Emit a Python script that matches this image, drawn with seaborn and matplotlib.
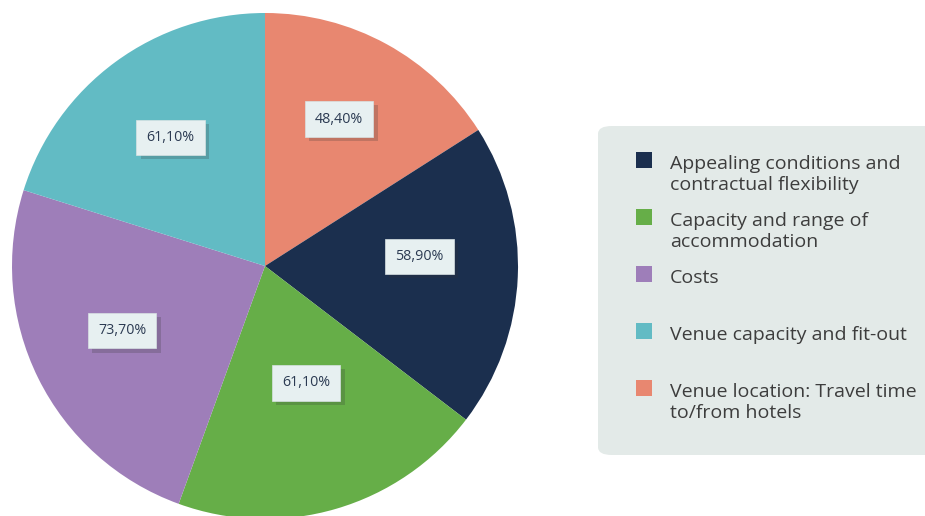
import numpy as np
import matplotlib.pyplot as plt
import matplotlib.patheffects as pe
from matplotlib.patches import FancyBboxPatch, Rectangle
import seaborn as sns

sns.set_theme(style='white')
plt.rcParams['font.family'] = ['Open Sans', 'DejaVu Sans']

# slices in clockwise order starting at 12 o'clock
slice_labels = ['Venue location: Travel time\nto/from hotels',
                'Appealing conditions and\ncontractual flexibility',
                'Capacity and range of\naccommodation',
                'Costs',
                'Venue capacity and fit-out']
slice_values = [48.4, 58.9, 61.1, 73.7, 61.1]
slice_colors = ['#e88770', '#1b2f4e', '#66ae48', '#9e7eb9', '#62bbc4']

# legend order
legend_order = [1, 2, 3, 4, 0]
# placement of the value boxes (radius fraction, angular nudge in degrees)
label_dist = [0.65, 0.61, 0.49, 0.62, 0.63]
label_nudge = [2, 6, 3, -2, 0]

fig = plt.figure(figsize=(9.25, 5.16), dpi=100)
ax = fig.add_axes([12 / 925, -3 / 516, 506 / 925, 506 / 516])

wedges, texts, autotexts = ax.pie(
    slice_values, colors=slice_colors, startangle=90, counterclock=False,
    autopct=lambda p: f'{p * sum(slice_values) / 100:.2f}%'.replace('.', ','),
    pctdistance=0.63, radius=1, wedgeprops=dict(linewidth=0))
ax.set_xlim(-1, 1)
ax.set_ylim(-1, 1)
ax.set_aspect('equal')
ax.axis('off')

for w, t, d, n in zip(wedges, autotexts, label_dist, label_nudge):
    mid = np.deg2rad((w.theta1 + w.theta2) / 2 + n)
    t.set_position((d * np.cos(mid), d * np.sin(mid)))
    t.set_fontsize(10.3)
    t.set_color('#2b3a52')
    t.set_bbox(dict(boxstyle='square,pad=0.72', facecolor='#e7f0f1',
                    edgecolor='#d8e2e3', linewidth=0.5))
    t.get_bbox_patch().set_path_effects(
        [pe.SimplePatchShadow(offset=(3, -3), alpha=0.22, shadow_rgbFace='#333333'),
         pe.Normal()])

# legend panel
W, H = 925, 516
panel = FancyBboxPatch((598 / W, 1 - 455 / H), 360 / W, 329 / H,
                       boxstyle='round,pad=0,rounding_size=0.015',
                       transform=fig.transFigure, facecolor='#e3eae8',
                       edgecolor='none', zorder=0)
fig.add_artist(panel)

for row, idx in enumerate(legend_order):
    y = 160 + 57 * row
    fig.add_artist(Rectangle((636 / W, 1 - (y + 8) / H), 16 / W, 16 / H,
                             transform=fig.transFigure,
                             facecolor=slice_colors[idx], edgecolor='none'))
    fig.text(670 / W, 1 - (y - 5) / H, slice_labels[idx], fontsize=14,
             color='#3d3d3d', va='top', ha='left', linespacing=1.22)

fig.savefig('out.png', dpi=100)
